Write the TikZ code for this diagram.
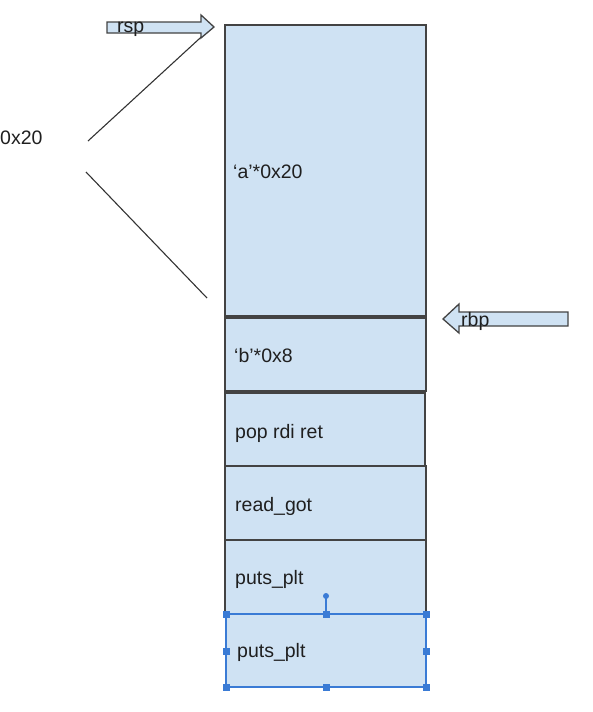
\documentclass[tikz,border=0pt]{standalone}
\usepackage{fontspec}
\setmainfont{Liberation Sans}
\definecolor{cellfill}{HTML}{CFE2F3}
\definecolor{cellline}{HTML}{434343}
\definecolor{selblue}{HTML}{3A7BD5}
\tikzset{
  cell/.style={draw=cellline, fill=cellfill, line width=1.3pt},
  lbl/.style={anchor=west, inner sep=0pt, font=\fontsize{19.5}{22}\selectfont, text=black!88},
  ptr/.style={draw=cellline, fill=cellfill, line width=1.3pt, line join=miter},
  brace/.style={draw=black!80, line width=1.1pt},
  handle/.style={fill=selblue, draw=selblue, minimum size=6pt, inner sep=0pt, rectangle},
  sel/.style={draw=selblue, line width=1.4pt}
}
\begin{document}
\begin{tikzpicture}[x=1pt, y=-1pt]
\useasboundingbox (0,0) rectangle (592,712);
% stack cells
\draw[cell] (225,25) rectangle (426,316);
\draw[cell] (225,318) rectangle (426,391);
\draw[cell] (225,393) rectangle (425,466);
\draw[cell] (225,466) rectangle (426,540);
\draw[cell] (225,540) rectangle (426,614);
\draw[cell, draw=none] (226,614) rectangle (426,687);
% labels
\node[lbl] (a) at (233,172) {‘a’*0x20};
\node[lbl] (b) at (234,356) {‘b’*0x8};
\node[lbl] (pop) at (235,433) {pop rdi ret};
\node[lbl] (got) at (235,506) {read\_got};
\node[lbl] (plt1) at (235,579) {puts\_plt};
\node[lbl] (plt2) at (237,652) {puts\_plt};
% size annotation
\node[lbl] (size) at (0,138) {0x20};
\coordinate (u1) at (88,141);
\coordinate (u2) at (211,28);
\coordinate (l1) at (86,172);
\coordinate (l2) at (207,298);
\draw[brace] (u1) -- (u2);
\draw[brace] (l1) -- (l2);
% rsp pointer
\draw[ptr] (107,22) -- (201,22) -- (201,15) -- (214,27) -- (201,38) -- (201,33) -- (107,33) -- cycle;
\node[lbl] (rsp) at (117,29) {rsp};
% rbp pointer
\draw[ptr] (568,312) -- (459,312) -- (459,304) -- (443,319) -- (459,333) -- (459,326) -- (568,326) -- cycle;
\node[lbl] (rbp) at (461,321) {rbp};
% selection box
\draw[sel] (226,614) rectangle (426,687);
\coordinate (rot) at (326,596);
\draw[sel] (326,614) -- (rot);
\fill[selblue] (rot) circle (3pt);
\foreach \p in {(226,614),(326,614),(426,614),(226,651),(426,651),(226,687),(326,687),(426,687)}
  \node[handle] at \p {};
\end{tikzpicture}
\end{document}
